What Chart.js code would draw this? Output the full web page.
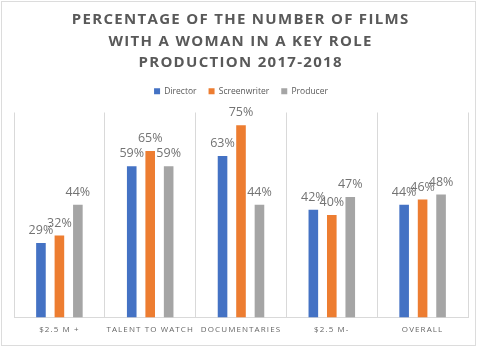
<!DOCTYPE html>
<html>
<head>
<meta charset="utf-8">
<script src="https://cdn.jsdelivr.net/npm/chart.js@4/dist/chart.umd.min.js"></script>
<style>
  html, body { margin: 0; padding: 0; background: #ffffff; }
  #wrap { position: relative; width: 480px; height: 348px; overflow: hidden; }
  #frame { position: absolute; left: 1px; top: 1px; width: 475px; height: 345px; border: 1px solid #dcdcdc; box-sizing: border-box; pointer-events: none; }
  canvas { position: absolute; left: 0; top: 0; }
</style>
</head>
<body>
<div id="wrap">
  <canvas id="chart" width="480" height="348"></canvas>
  <div id="frame"></div>
</div>
<script>
// Share of films with a woman in a key role, 2017-2018 productions (percent)
const titleLines = [
  'PERCENTAGE OF THE NUMBER OF FILMS',
  'WITH A WOMAN IN A KEY ROLE',
  'PRODUCTION 2017-2018'
];
const categories = ['$2.5 M +', 'TALENT TO WATCH', 'DOCUMENTARIES', '$2.5 M-', 'OVERALL'];
const seriesNames = ['Director', 'Screenwriter', 'Producer'];
const director = [29, 59, 63, 42, 44];
const screenwriter = [32, 65, 75, 40, 46];
const producer = [44, 59, 44, 47, 48];
const yMax = 80;

const colors = ['#4472C4', '#ED7D31', '#A5A5A5'];
const textGray = '#595959';
const labelGray = '#737373';

// Three-line spaced title drawn above the legend
const titlePlugin = {
  id: 'spacedTitle',
  afterDraw(chart) {
    const ctx = chart.ctx;
    ctx.save();
    ctx.letterSpacing = '1.3px';
    ctx.font = 'bold 15px "Open Sans"';
    ctx.fillStyle = textGray;
    ctx.textAlign = 'center';
    ctx.textBaseline = 'middle';
    const ys = [20, 41.5, 63];
    titleLines.forEach((t, i) => ctx.fillText(t, 240 + 0.65, ys[i]));
    ctx.restore();
    ctx.letterSpacing = '0px';
  }
};

// Percentage labels above each bar, then spaced text for the category axis
const valueLabels = {
  id: 'valueLabels',
  afterDatasetsDraw(chart) {
    const ctx = chart.ctx;
    ctx.save();
    ctx.letterSpacing = '0px';
    ctx.font = '12.5px "Open Sans"';
    ctx.fillStyle = labelGray;
    ctx.textAlign = 'center';
    ctx.textBaseline = 'middle';
    chart.data.datasets.forEach((ds, i) => {
      chart.getDatasetMeta(i).data.forEach((bar, j) => {
        ctx.fillText(ds.data[j] + '%', bar.x, bar.y - 12.5);
      });
    });
    ctx.restore();
    // category tick labels (ticks.z: 1) are drawn next and pick this up
    ctx.letterSpacing = '1.1px';
  }
};

new Chart(document.getElementById('chart'), {
  type: 'bar',
  data: {
    labels: categories,
    datasets: [
      { label: seriesNames[0], data: director, backgroundColor: colors[0] },
      { label: seriesNames[1], data: screenwriter, backgroundColor: colors[1] },
      { label: seriesNames[2], data: producer, backgroundColor: colors[2] }
    ]
  },
  options: {
    responsive: false,
    animation: false,
    events: [],
    layout: { padding: { left: 14, right: 12, top: 75, bottom: 5 } },
    datasets: {
      bar: { categoryPercentage: 0.61, barPercentage: 0.52 }
    },
    scales: {
      x: {
        grid: { offset: true, color: '#d9d9d9', lineWidth: 1, drawTicks: false },
        border: { display: true, color: '#d9d9d9' },
        ticks: { z: 1, color: '#666666', font: { family: '"Open Sans"', size: 8 }, padding: 8, maxRotation: 0, autoSkip: false }
      },
      // spacer between legend and plot area
      xTop: {
        type: 'category',
        position: 'top',
        grid: { display: false },
        border: { display: false },
        ticks: { display: false },
        afterFit(scale) { scale.height = 7; }
      },
      y: {
        display: false,
        min: 0,
        max: yMax
      }
    },
    plugins: {
      legend: {
        position: 'top',
        labels: {
          boxWidth: 6,
          boxHeight: 6,
          padding: 12,
          color: textGray,
          font: { family: '"Open Sans"', size: 8.5 }
        }
      },
      title: { display: false },
      tooltip: { enabled: false }
    }
  },
  plugins: [valueLabels, titlePlugin]
});
</script>
</body>
</html>
